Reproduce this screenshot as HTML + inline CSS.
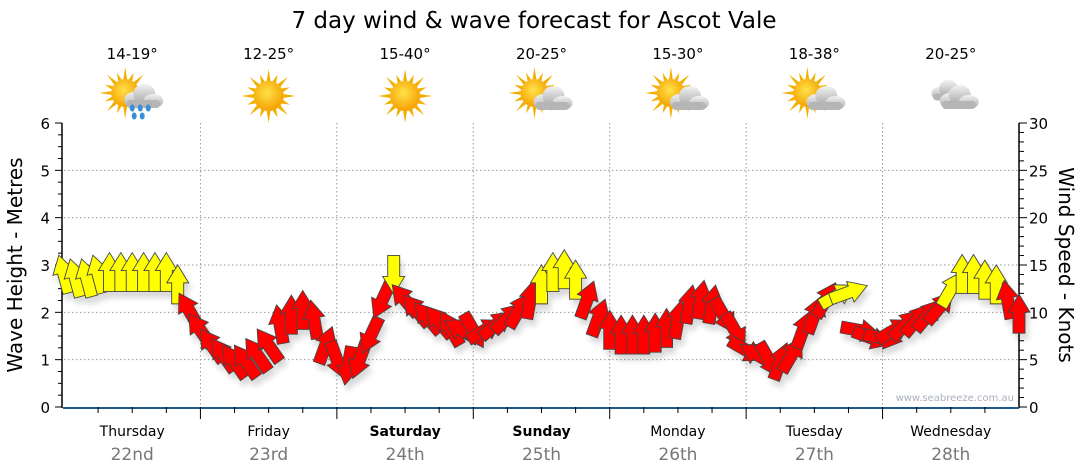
<!DOCTYPE html>
<html><head><meta charset="utf-8"><style>
body{margin:0;background:#fff;font-family:"DejaVu Sans","Liberation Sans",sans-serif}
svg{display:block}
</style></head><body>
<svg id="c" width="1080" height="475" viewBox="0 0 1080 475">
<defs>
<filter id="sh" x="-50%" y="-50%" width="200%" height="200%"><feGaussianBlur in="SourceAlpha" stdDeviation="3"/><feOffset dx="3" dy="6"/><feComponentTransfer><feFuncA type="linear" slope="0.15"/></feComponentTransfer><feMerge><feMergeNode/><feMergeNode in="SourceGraphic"/></feMerge></filter>
<radialGradient id="sun" cx="45%" cy="40%" r="60%"><stop offset="0" stop-color="#ffe24a"/><stop offset="1" stop-color="#f5a000"/></radialGradient>
<linearGradient id="cl" x1="0" y1="0" x2="0" y2="1"><stop offset="0" stop-color="#f2f2f2"/><stop offset="1" stop-color="#a8a8a8"/></linearGradient>
</defs>
<text x="534" y="28" text-anchor="middle" font-size="23">7 day wind &amp; wave forecast for Ascot Vale</text>
<g id="grid"></g><g id="axes"></g><g id="icons"></g><g id="arrows" filter="url(#sh)"></g>
<text x="1014" y="401" text-anchor="end" font-size="10" fill="#aab0bc">www.seabreeze.com.au</text>
<text transform="translate(22,265) rotate(-90)" text-anchor="middle" font-size="20">Wave Height - Metres</text>
<text transform="translate(1059,265) rotate(90)" text-anchor="middle" font-size="20">Wind Speed - Knots</text>
</svg>
<script>
const days=["Thursday","Friday","Saturday","Sunday","Monday","Tuesday","Wednesday"];
const dates=["22nd","23rd","24th","25th","26th","27th","28th"];
const temps=["14-19°","12-25°","15-40°","20-25°","15-30°","18-38°","20-25°"];
const icons=["rain","sun","sun","pc","pc","pc","cloud"];
const boldDays=[false,false,true,true,false,false,false];
const windKnots=[14,13.6,13.6,14,14.2,14.2,14.2,14.2,14.2,14.2,12.9,10.2,
8.1,6.5,5.5,4.8,4.8,5.5,6.5,8.7,9.7,10.2,9.2,6.5,
5,4.4,5,7.6,11.3,14,11.3,10.2,9.4,9,8.3,8.1,
8.1,8.1,8.7,9.4,10.2,11.3,12.9,14.2,14.5,13.4,11.3,9.4,
8.1,7.6,7.6,7.6,7.8,8.3,9.2,10.8,11.3,10.8,9.7,8.1,
6,5.5,5,4.8,5.5,8.1,9.7,11.3,11.8,12.1,8.1,7.3,
7.3,8.1,8.7,9.2,9.7,10.5,12.4,14,14,13.4,12.9,11.3,9.8];
const windDir=[-15,-15,-15,-15,0,0,0,0,0,0,0,-30,
-35,-35,-35,-35,-35,-35,-35,-10,0,0,-10,20,
160,190,200,205,205,180,-40,-40,-40,-40,-30,-60,
150,60,50,45,30,10,0,0,0,0,20,20,
0,0,0,0,0,0,10,10,10,10,150,150,
120,-60,150,20,30,20,20,30,60,70,100,110,
100,60,45,40,40,40,30,0,0,0,0,-10,0];
const NS="http://www.w3.org/2000/svg";
const X0=64,X1=1019,Y0=407,Y1=123,DW=(X1-X0)/7;
const yM=m=>Y0-(Y0-Y1)*m/6, yK=k=>Y0-(Y0-Y1)*k/30, xH=h=>X0+DW*h/24;
function el(t,a,p){const e=document.createElementNS(NS,t);for(const k in a)e.setAttribute(k,a[k]);p.appendChild(e);return e;}
const G=document.getElementById('grid'),A=document.getElementById('axes'),I=document.getElementById('icons'),W=document.getElementById('arrows');
for(let m=1;m<=5;m++){const l=el('line',{x1:X0,x2:X1,y1:yM(m),y2:yM(m),stroke:'#999','stroke-dasharray':'1.5,2.5'},G);

}
for(let d=1;d<7;d++){const l=el('line',{x1:X0+DW*d,x2:X0+DW*d,y1:Y1,y2:Y0,stroke:'#999','stroke-dasharray':'1.5,2.5'},G);

}
el('line',{x1:62,x2:62,y1:Y1,y2:Y0+1,stroke:'#000','stroke-width':1.5},A);
el('line',{x1:X1,x2:X1,y1:Y1,y2:Y0+1,stroke:'#000','stroke-width':1.5},A);
el('line',{x1:X0-1,x2:X1,y1:Y0+1,y2:Y0+1,stroke:'#1b5a8a','stroke-width':2},A);
for(let i=0;i<=24;i++){const m=i/4,y=yM(m);el('line',{x1:62,x2:i%4?58:55,y1:y,y2:y,stroke:'#000'},A);
if(i%4==0){const t=el('text',{x:50,y:y+6,'text-anchor':'end','font-size':15},A);t.textContent=m;

}}
for(let k=0;k<=30;k++){const y=yK(k);el('line',{x1:X1,x2:k%5?X1+5:X1+8,y1:y,y2:y,stroke:'#000'},A);
if(k%5==0){const t=el('text',{x:1029,y:y+6,'font-size':15},A);t.textContent=k;

}}
for(let h=6;h<168;h+=6){const x=xH(h);el('line',{x1:x,x2:x,y1:Y0,y2:h%24?Y0+6:Y0+12,stroke:'#000'},A);}
function sun(g,cx,cy,r){for(let i=0;i<16;i++){const a=i*Math.PI/8,L=i%2?r+8:r+12;
el('polygon',{points:`${cx+Math.cos(a-0.13)*r},${cy+Math.sin(a-0.13)*r} ${cx+Math.cos(a)*L},${cy+Math.sin(a)*L} ${cx+Math.cos(a+0.13)*r},${cy+Math.sin(a+0.13)*r}`,fill:'#f3b000'},g);}
el('circle',{cx,cy,r,fill:'url(#sun)'},g);}
function cloud(g,cx,cy,s){el('ellipse',{cx:cx-8*s,cy:cy+3*s,rx:10*s,ry:8*s,fill:'url(#cl)'},g);el('ellipse',{cx:cx+2*s,cy:cy-3*s,rx:11*s,ry:10*s,fill:'url(#cl)'},g);el('ellipse',{cx:cx+11*s,cy:cy+4*s,rx:10*s,ry:7*s,fill:'url(#cl)'},g);el('rect',{x:cx-16*s,y:cy+3*s,width:34*s,height:8*s,rx:4*s,fill:'#b5b5b5'},g);}
days.forEach((d,i)=>{const cx=X0+DW*(i+0.5);
const t=el('text',{x:cx,y:436,'text-anchor':'middle','font-size':14,'font-weight':boldDays[i]?'bold':'normal'},A);t.textContent=d;


const t2=el('text',{x:cx,y:460,'text-anchor':'middle','font-size':17,fill:'#777'},A);t2.textContent=dates[i];


const t3=el('text',{x:cx,y:59,'text-anchor':'middle','font-size':15},I);t3.textContent=temps[i];


const g=el('g',{},I);


const ty=icons[i];
if(ty=='sun')sun(g,cx,96,15);
if(ty=='pc'){sun(g,cx-7,93,14);cloud(g,cx+10,99,1);}
if(ty=='rain'){sun(g,cx-7,93,14);cloud(g,cx+10,97,1);[[0,108],[8,108],[16,108],[2,116],[10,116]].forEach(p=>el('ellipse',{cx:cx+p[0],cy:p[1],rx:2.5,ry:3.5,fill:'#3a8fd8'},g));}
if(ty=='cloud'){cloud(g,cx-4,91,0.85);cloud(g,cx+7,98,1);}
});
windKnots.forEach((k,i)=>{const x=xH(i*2),y=yK(k),c=k>=11.6?'#ffff00':'#ff0000';
const p=el('path',{d:'M0,-20 L11,-2 L6,-2 L6,19 L-6,19 L-6,-2 L-11,-2 Z',fill:c,stroke:'#444','stroke-width':0.9,transform:`translate(${x},${y}) rotate(${windDir[i]})`},W);

});
</script>
</body></html>
